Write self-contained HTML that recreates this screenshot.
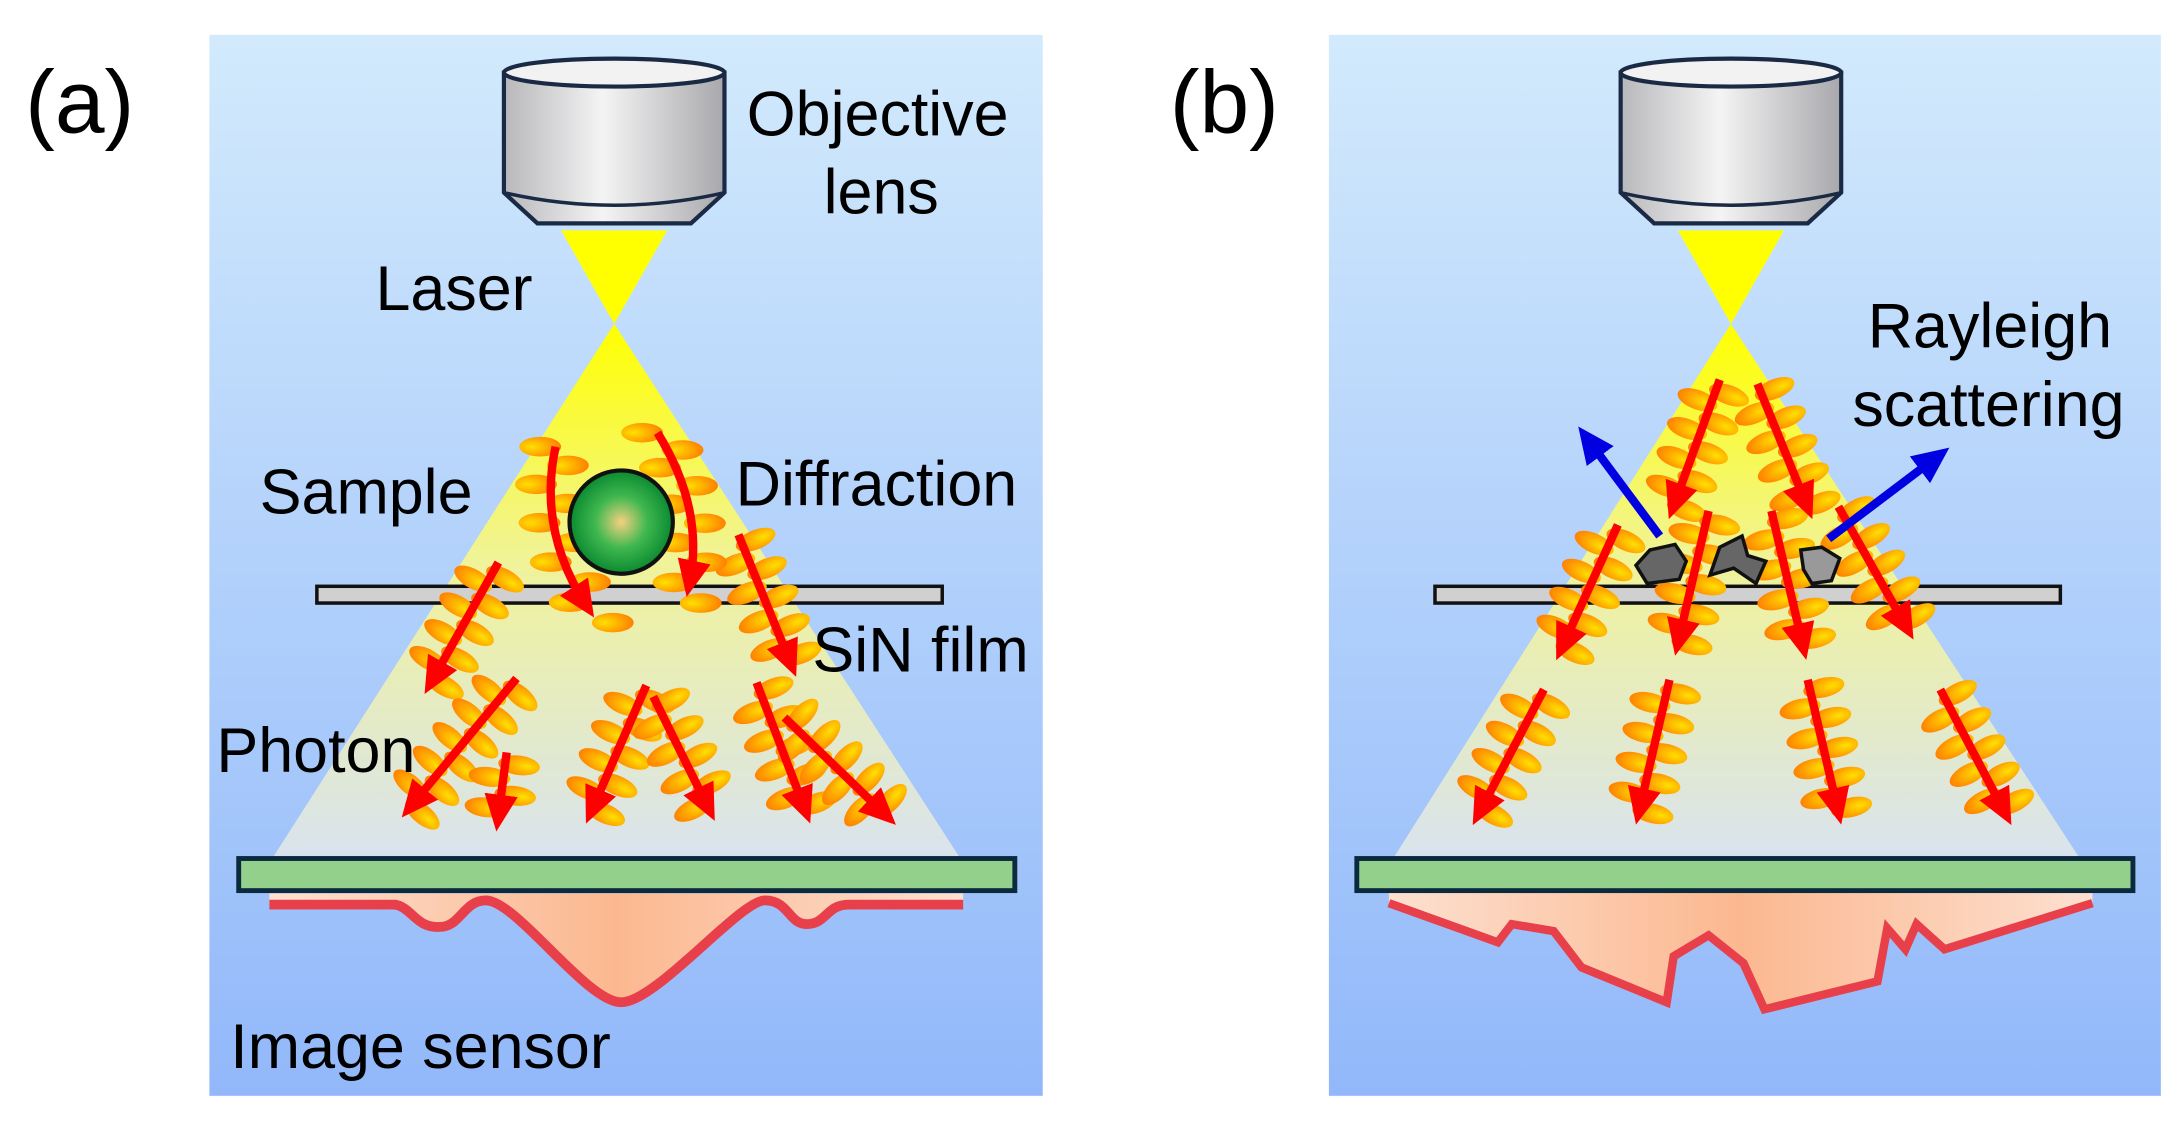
<!DOCTYPE html>
<html><head><meta charset="utf-8"><style>
html,body{margin:0;padding:0;background:#fff;}
svg{display:block}
text{font-family:"Liberation Sans",Arial,sans-serif;fill:#000}
</style></head><body>
<svg id="s" width="2179" height="1131" viewBox="0 0 1561 810.2" preserveAspectRatio="none" xmlns="http://www.w3.org/2000/svg">
<defs>
<linearGradient id="bg" x1="0" y1="0" x2="0" y2="1"><stop offset="0" stop-color="#d2eafc"/><stop offset="1" stop-color="#92b8fa"/></linearGradient>
<linearGradient id="beam" x1="0" y1="0" x2="0" y2="1"><stop offset="0" stop-color="#ffff00"/><stop offset="0.45" stop-color="#f0f39a"/><stop offset="1" stop-color="#d9e3ee"/></linearGradient>
<linearGradient id="cyl" x1="0" y1="0" x2="1" y2="0"><stop offset="0" stop-color="#b8b8bc"/><stop offset="0.45" stop-color="#f4f4f4"/><stop offset="1" stop-color="#a8a8ac"/></linearGradient>
<radialGradient id="ball" cx="0.5" cy="0.5" r="0.5"><stop offset="0" stop-color="#f5d080"/><stop offset="0.5" stop-color="#40b850"/><stop offset="1" stop-color="#0a8a30"/></radialGradient>
<linearGradient id="peach" x1="0" y1="0" x2="1" y2="0"><stop offset="0" stop-color="#fde0d0"/><stop offset="0.5" stop-color="#fbb890"/><stop offset="1" stop-color="#fde0d0"/></linearGradient>
<radialGradient id="wave" cx="0.3" cy="0.5" r="0.7"><stop offset="0" stop-color="#ffe000"/><stop offset="1" stop-color="#ff8000"/></radialGradient>
<marker id="ar" markerWidth="4.4" markerHeight="4" refX="2.8" refY="2" orient="auto" markerUnits="strokeWidth"><path d="M0,0 L4.4,2 L0,4 z" fill="#ff0000"/></marker>
<marker id="ab" markerWidth="4.4" markerHeight="4" refX="2.8" refY="2" orient="auto" markerUnits="strokeWidth"><path d="M0,0 L4.4,2 L0,4 z" fill="#0000e0"/></marker>
</defs>
<rect x="150" y="25" width="597" height="760" fill="url(#bg)"/>
<rect x="952" y="25" width="596" height="760" fill="url(#bg)"/>
<g id="lenses"></g>
<polygon points="402,165 478,165 440,232" fill="#ffff00"/>
<polygon points="440,232 195,615 688,615" fill="url(#beam)"/>
<polygon points="1202,165 1278,165 1240,232" fill="#ffff00"/>
<polygon points="1240,232 998,615 1490,615" fill="url(#beam)"/>
<path d="M193,648 L283,648 C295,650 298,665 315,664 C330,664 332,645 348,645 C370,645 420,718 445,718 C470,718 530,645 548,645 C565,645 565,662 578,662 C592,662 592,648 608,648 L690,648 L690,640 L193,640 Z" fill="url(#peach)"/>
<path d="M193,648 L283,648 C295,650 298,665 315,664 C330,664 332,645 348,645 C370,645 420,718 445,718 C470,718 530,645 548,645 C565,645 565,662 578,662 C592,662 592,648 608,648 L690,648" fill="none" stroke="#e8404a" stroke-width="7"/>
<g transform="translate(0,20)">
<polygon points="995,627 1073,655 1083,642 1113,647 1133,673 1194,698 1199,665 1224,650 1249,670 1264,703 1345,683 1352,645 1365,660 1373,642 1393,660 1499,627 1499,618 995,618" fill="url(#peach)"/>
<polyline points="995,627 1073,655 1083,642 1113,647 1133,673 1194,698 1199,665 1224,650 1249,670 1264,703 1345,683 1352,645 1365,660 1373,642 1393,660 1499,627" fill="none" stroke="#e8404a" stroke-width="6"/>
</g>
<rect x="227" y="420" width="448" height="12" fill="#d0d0d0" stroke="#111" stroke-width="2.5"/>
<rect x="1028" y="420" width="448" height="12" fill="#d0d0d0" stroke="#111" stroke-width="2.5"/>
<g id="waves"></g>
<circle cx="445" cy="374" r="37" fill="url(#ball)" stroke="#111" stroke-width="3"/>
<polygon points="1172,405 1182,394 1200,390 1208,402 1203,415 1180,418" fill="#666" stroke="#111" stroke-width="2.5"/>
<polygon points="1225,412 1232,392 1248,384 1252,398 1265,402 1258,418 1242,407" fill="#666" stroke="#111" stroke-width="2.5"/>
<polygon points="1290,394 1305,392 1318,400 1312,416 1298,418 1292,408" fill="#999" stroke="#111" stroke-width="2.5"/>
<g id="arrows"></g>
<rect x="171" y="615" width="556" height="23" fill="#93d08c" stroke="#0b2a3e" stroke-width="3.5"/>
<rect x="972" y="615" width="556" height="23" fill="#93d08c" stroke="#0b2a3e" stroke-width="3.5"/>
<text x="18" y="95" font-size="64">(a)</text>
<text x="838" y="95" font-size="64">(b)</text>
<text x="535" y="97" font-size="45">Objective</text>
<text x="590" y="153" font-size="45">lens</text>
<text x="269" y="222" font-size="45">Laser</text>
<text x="186" y="368" font-size="45">Sample</text>
<text x="527" y="362" font-size="45">Diffraction</text>
<text x="582" y="481" font-size="45">SiN film</text>
<text x="155" y="553" font-size="45">Photon</text>
<text x="165" y="765" font-size="45">Image sensor</text>
<text x="1338" y="249" font-size="45">Rayleigh</text>
<text x="1327" y="305" font-size="45">scattering</text>
</svg>
<script>
var NS="http://www.w3.org/2000/svg";
function el(p,t,a){var e=document.createElementNS(NS,t);for(var k in a)e.setAttribute(k,a[k]);p.appendChild(e);return e;}
var L=document.getElementById('lenses');
[440,1240].forEach(function(c){
 el(L,'path',{d:'M'+(c-79)+',52 L'+(c-79)+',138 L'+(c-55)+',160 L'+(c+55)+',160 L'+(c+79)+',138 L'+(c+79)+',52 Z',fill:'url(#cyl)',stroke:'#1a2a44','stroke-width':3});
 el(L,'path',{d:'M'+(c-79)+',138 Q'+c+',156 '+(c+79)+',138',fill:'none',stroke:'#1a2a44','stroke-width':2.5});
 el(L,'ellipse',{cx:c,cy:52,rx:79,ry:10,fill:'#f2f2f2',stroke:'#1a2a44','stroke-width':3});
});
var W=document.getElementById('waves'),A=document.getElementById('arrows');
function wave(cx,cy,ang){el(W,'ellipse',{cx:cx,cy:cy,rx:15,ry:7,fill:'url(#wave)',transform:'rotate('+ang+' '+cx+' '+cy+')'});}
function arrow(x1,y1,x2,y2,wv,col){
 var dx=x2-x1,dy=y2-y1,len=Math.sqrt(dx*dx+dy*dy),ux=dx/len,uy=dy/len,nx=-uy,ny=ux;
 if(wv){var n=Math.floor((len-10)/11);for(var i=0;i<n;i++){var t=8+i*11;var s=(i%2?1:-1);var cx=x1+ux*t+nx*s*10,cy=y1+uy*t+ny*s*10;
  wave(cx,cy,Math.atan2(ny,nx)*180/Math.PI);}}
 el(A,'line',{x1:x1,y1:y1,x2:x2-ux*14,y2:y2-uy*14,stroke:col||'#ff0000','stroke-width':6,'marker-end':col?'url(#ab)':'url(#ar)'});
}
var ra=[[357,403,302,501],[529,383,572,489],[370,486,285,589],[363,539,355,600],[463,491,418,594],[468,499,514,592],[542,489,582,594],[562,514,645,594],
[1232,272,1194,376],[1259,275,1300,376],[1159,376,1113,477],[1224,366,1199,474],[1269,366,1295,477],[1317,363,1373,462],[1106,494,1053,595],[1196,487,1171,595],[1295,487,1320,595],[1390,494,1443,595]];
ra.forEach(function(a){arrow(a[0],a[1],a[2],a[3],true);});
[[398,320,385,380,428,446],[471,310,505,365,491,432]].forEach(function(c){
 for(var i=0;i<10;i++){var t=i/9;var x=(1-t)*(1-t)*c[0]+2*t*(1-t)*c[2]+t*t*c[4],y=(1-t)*(1-t)*c[1]+2*t*(1-t)*c[3]+t*t*c[5];var s=(i%2?1:-1);
  wave(x+s*11,y,0);}
 var tx=c[4]-c[2],ty=c[5]-c[3],l=Math.sqrt(tx*tx+ty*ty);
 el(A,'path',{d:'M'+c[0]+','+c[1]+' Q'+c[2]+','+c[3]+' '+(c[4]-tx/l*14)+','+(c[5]-ty/l*14),fill:'none',stroke:'#ff0000','stroke-width':6,'marker-end':'url(#ar)'});
});
arrow(1189,384,1128,302,false,'#0000e0');
arrow(1310,386,1400,318,false,'#0000e0');
</script>
</body></html>
